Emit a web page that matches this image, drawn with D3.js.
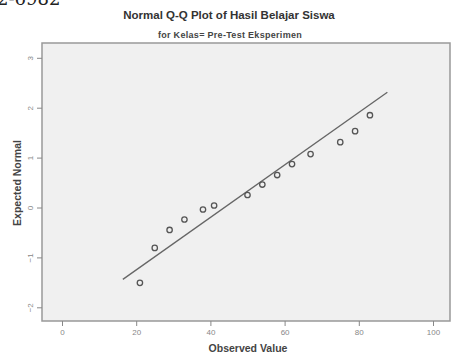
<!DOCTYPE html>
<html>
<head>
<meta charset="utf-8">
<script src="https://cdn.jsdelivr.net/npm/d3@7"></script>
<style>
  body { margin: 0; background: #fff; }
  svg { display: block; }
</style>
</head>
<body>
<svg id="chart" width="453" height="354"></svg>
<script>
// observed values and their expected normal scores
const observed = [21, 25, 29, 33, 38, 41, 50, 54, 58, 62, 67, 75, 79, 83];
const expected = [-1.51, -0.81, -0.45, -0.24, -0.04, 0.04, 0.25, 0.46, 0.65, 0.87, 1.07, 1.31, 1.53, 1.85];
// reference line end points (observed, expected)
const lineObserved = [16.4, 87.7];
const lineExpected = [-1.44, 2.31];
const xTicks = [0, 20, 40, 60, 80, 100];
const yTicks = [-2, -1, 0, 1, 2, 3];

const svg = d3.select('#chart');

// frame bounds
const frameLeft = 42, frameRight = 450, frameTop = 43, frameBottom = 321;

const x = d3.scaleLinear().domain([0, 100]).range([62, 433]);
const y = d3.scaleLinear().domain([0, 1]).range([207.5, 157.6]);

// stray page text at the top left (cut off in the source too)
svg.append('text')
  .attr('x', -3).attr('y', 5)
  .attr('font-family', 'DejaVu Serif, serif')
  .attr('font-size', 18)
  .attr('fill', '#222')
  .text('2-6982');

// titles
svg.append('text')
  .attr('x', 229).attr('y', 19)
  .attr('text-anchor', 'middle')
  .attr('font-family', 'Liberation Sans, Arial, sans-serif')
  .attr('font-weight', 'bold')
  .attr('font-size', 11.5)
  .attr('fill', '#333')
  .text('Normal Q-Q Plot of Hasil Belajar Siswa');

svg.append('text')
  .attr('x', 230).attr('y', 38)
  .attr('text-anchor', 'middle')
  .attr('font-family', 'Liberation Sans, Arial, sans-serif')
  .attr('font-weight', 'bold')
  .attr('font-size', 9)
  .attr('letter-spacing', 0.3)
  .attr('fill', '#444')
  .text('for Kelas= Pre-Test Eksperimen');

// plot frame
svg.append('rect')
  .attr('x', frameLeft).attr('y', frameTop)
  .attr('width', frameRight - frameLeft).attr('height', frameBottom - frameTop)
  .attr('fill', '#f0f0f0')
  .attr('stroke', '#999')
  .attr('stroke-width', 1.5);

// x axis
const xAxis = svg.append('g')
  .attr('transform', `translate(0,${frameBottom})`)
  .call(d3.axisBottom(x).tickValues(xTicks).tickSize(5).tickPadding(3));
xAxis.select('.domain').remove();
xAxis.selectAll('line').attr('stroke', '#888');
xAxis.selectAll('text')
  .attr('font-family', 'Liberation Sans, Arial, sans-serif')
  .attr('font-size', 8)
  .attr('fill', '#888');

// y axis with rotated labels
const yAxis = svg.append('g')
  .attr('transform', `translate(${frameLeft},0)`)
  .call(d3.axisLeft(y).tickValues(yTicks).tickSize(5).tickFormat(d3.format('d')));
yAxis.select('.domain').remove();
yAxis.selectAll('line').attr('stroke', '#888');
yAxis.selectAll('text')
  .attr('x', 0).attr('dy', 0)
  .attr('transform', 'translate(-9,0) rotate(-90)')
  .attr('text-anchor', 'middle')
  .attr('font-family', 'Liberation Sans, Arial, sans-serif')
  .attr('font-size', 8)
  .attr('fill', '#888');

// axis titles
svg.append('text')
  .attr('transform', 'translate(21,183) rotate(-90)')
  .attr('text-anchor', 'middle')
  .attr('font-family', 'Liberation Sans, Arial, sans-serif')
  .attr('font-weight', 'bold')
  .attr('font-size', 10.5)
  .attr('fill', '#444')
  .text('Expected Normal');

svg.append('text')
  .attr('x', 248).attr('y', 352)
  .attr('text-anchor', 'middle')
  .attr('font-family', 'Liberation Sans, Arial, sans-serif')
  .attr('font-weight', 'bold')
  .attr('font-size', 10.5)
  .attr('fill', '#444')
  .text('Observed Value');

// reference line
svg.append('line')
  .attr('x1', x(lineObserved[0])).attr('y1', y(lineExpected[0]))
  .attr('x2', x(lineObserved[1])).attr('y2', y(lineExpected[1]))
  .attr('stroke', '#666')
  .attr('stroke-width', 1.3);

// points
svg.append('g')
  .selectAll('circle')
  .data(observed)
  .join('circle')
  .attr('cx', d => x(d))
  .attr('cy', (d, i) => y(expected[i]))
  .attr('r', 2.7)
  .attr('fill', 'none')
  .attr('stroke', '#555')
  .attr('stroke-width', 1.3);
</script>
</body>
</html>
